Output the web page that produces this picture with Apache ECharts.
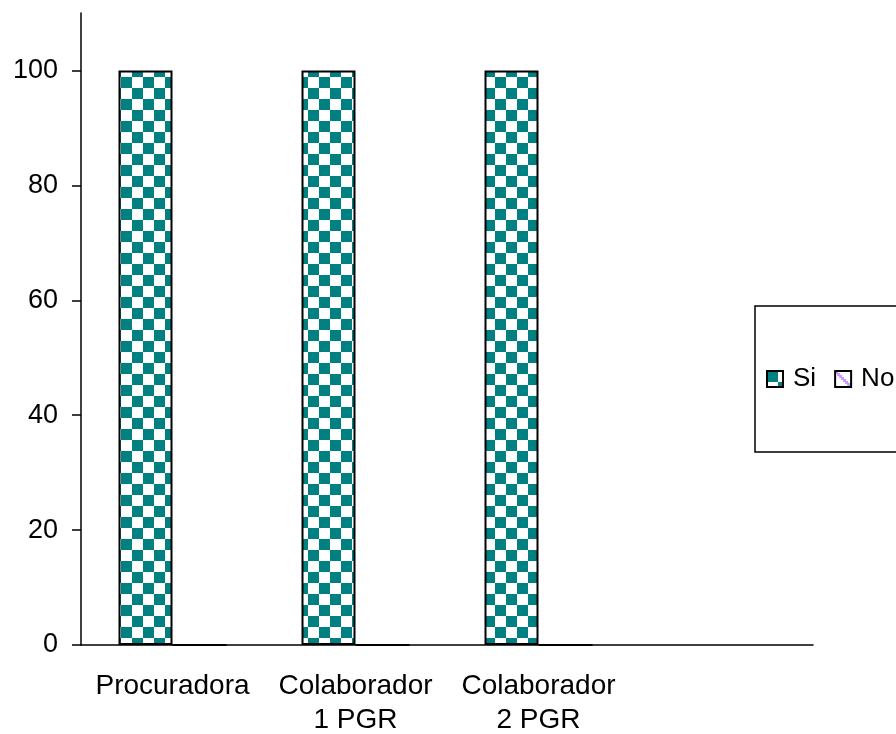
<!DOCTYPE html>
<html>
<head>
<meta charset="utf-8">
<script src="https://cdn.jsdelivr.net/npm/echarts@6/dist/echarts.min.js"></script>
<style>
  html, body { margin: 0; padding: 0; background: #fff; }
  #chart { width: 896px; height: 734px; }
</style>
</head>
<body>
<div id="chart"></div>
<script>
const categories = ["Procuradora", "Colaborador\n1 PGR", "Colaborador\n2 PGR", ""];
const siValues = [100, 100, 100, null];
const noValues = [0, 0, 0, null];
const yTicks = [0, 20, 40, 60, 80, 100];

// checker fill for "Si"
function checker() {
  const c = document.createElement("canvas");
  c.width = 22; c.height = 22;
  const g = c.getContext("2d");
  g.fillStyle = "#fff"; g.fillRect(0, 0, 22, 22);
  g.fillStyle = "#008080";
  g.fillRect(0, 0, 11, 11);
  g.fillRect(11, 11, 11, 11);
  return c;
}
// diagonal lavender fill for "No"
function diag() {
  const c = document.createElement("canvas");
  c.width = 16; c.height = 16;
  const g = c.getContext("2d");
  g.fillStyle = "#fff"; g.fillRect(0, 0, 16, 16);
  g.fillStyle = "#cc99ff";
  for (let i = 0; i < 16; i += 2) g.fillRect(i, i, 3, 3);
  return c;
}

const chart = echarts.init(document.getElementById("chart"));
const font = "Liberation Sans, Arial, sans-serif";
chart.setOption({
  animation: false,
  grid: { left: 81, right: 83, top: 13, bottom: 89, outerBoundsMode: "none", containLabel: false },
  legend: {
    data: ["Si", "No"],
    orient: "horizontal",
    left: 755, top: 306, width: 300,
    padding: [60, 40, 60, 11],
    backgroundColor: "#fff",
    borderColor: "#000",
    borderWidth: 1.5,
    itemWidth: 16, itemHeight: 16,
    itemGap: 18,
    icon: "rect",
    textStyle: { fontFamily: font, fontSize: 26, lineHeight: 26, color: "#000", padding: [0, 0, 0, 5] }
  },
  xAxis: {
    type: "category",
    data: categories,
    axisLine: { lineStyle: { color: "#000", width: 1.5 } },
    axisTick: { length: 9, lineStyle: { color: "#000", width: 1.5 } },
    axisLabel: { fontFamily: font, fontSize: 28, lineHeight: 34, color: "#000", margin: 24, interval: 0 }
  },
  yAxis: {
    type: "value",
    min: 0, max: 110, interval: 20,
    splitLine: { show: false },
    axisLine: { show: true, lineStyle: { color: "#000", width: 1.5 } },
    axisTick: { show: true, length: 9, customValues: yTicks, lineStyle: { color: "#000", width: 1.5 } },
    axisLabel: { fontFamily: font, fontSize: 27, color: "#000", margin: 23, customValues: yTicks }
  },
  series: [
    {
      name: "Si", type: "bar", data: siValues,
      barWidth: 54, barGap: "0%",
      itemStyle: { color: { image: checker(), repeat: "repeat" }, borderColor: "#000", borderWidth: 2 }
    },
    {
      name: "No", type: "bar", data: noValues,
      barWidth: 54,
      itemStyle: { color: { image: diag(), repeat: "repeat" }, borderColor: "#000", borderWidth: 2 }
    }
  ]
});
</script>
</body>
</html>
